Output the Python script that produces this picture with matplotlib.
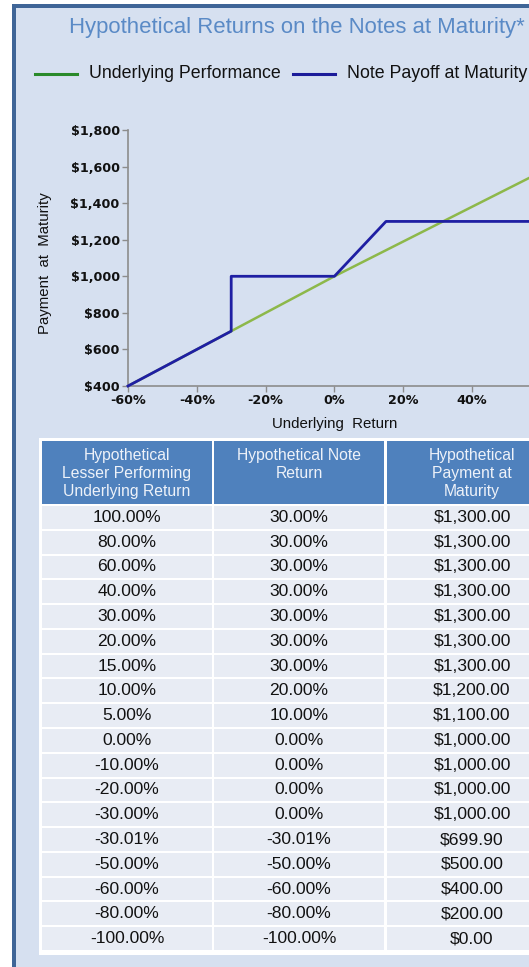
import matplotlib.pyplot as plt
import matplotlib.patches as mpatches
from matplotlib.ticker import FuncFormatter

# chart data
green_x = [-60, 0, 60]
green_y = [400, 1000, 1570]
note_x = [-60, -30, -30, 0, 15, 60]
note_y = [400, 700, 1000, 1000, 1300, 1300]
x_ticks = [-60, -40, -20, 0, 20, 40]
y_ticks = [400, 600, 800, 1000, 1200, 1400, 1600, 1800]

# table data
headers = ["Hypothetical\nLesser Performing\nUnderlying Return",
           "Hypothetical Note\nReturn",
           "Hypothetical\nPayment at\nMaturity"]
und_ret = [100, 80, 60, 40, 30, 20, 15, 10, 5, 0, -10, -20, -30, -30.01, -50, -60, -80, -100]
note_ret = [30, 30, 30, 30, 30, 30, 30, 20, 10, 0, 0, 0, 0, -30.01, -50, -60, -80, -100]
payment = [1300, 1300, 1300, 1300, 1300, 1300, 1300, 1200, 1100, 1000, 1000, 1000, 1000,
           699.90, 500, 400, 200, 0]

W, H = 529, 967
fig = plt.figure(figsize=(W / 100, H / 100), dpi=100)
fig.patch.set_facecolor("white")

bg = fig.add_axes([0, 0, 1, 1], zorder=0)
bg.set_xlim(0, W)
bg.set_ylim(H, 0)
bg.axis("off")

panel = "#D6E0F0"
border = "#3F6597"
bg.add_patch(mpatches.Rectangle((12, 4), 600, 970, facecolor=panel, edgecolor="none"))
bg.add_patch(mpatches.Rectangle((12, 4), 4, 970, facecolor=border, edgecolor="none"))
bg.add_patch(mpatches.Rectangle((12, 4), 600, 4, facecolor=border, edgecolor="none"))

sans = "Liberation Sans"
bg.text(69, 27, "Hypothetical Returns on the Notes at Maturity*", fontsize=15.9,
        color="#5A8AC6", family=sans, ha="left", va="center")

# legend
bg.plot([35, 77], [74, 74], color="#2A8A2A", lw=2.2)
bg.text(89, 74, "Underlying Performance", fontsize=12.8, family=sans, va="center", color="#111111")
bg.plot([293, 335], [74, 74], color="#1C1C9A", lw=2.2)
bg.text(347, 74, "Note Payoff at Maturity", fontsize=12.8, family=sans, va="center", color="#111111")

# chart
px20 = 68.8
left, bottom, top = 128, 386, 130
ax = fig.add_axes([left / W, 1 - bottom / H, 6 * px20 / W, (bottom - top) / H], zorder=2)
ax.set_facecolor("none")
ax.plot(green_x, green_y, color="#8DB84A", lw=1.8, zorder=2)
ax.plot(note_x, note_y, color="#1F1FA3", lw=2.0, zorder=3, clip_on=False)
ax.set_xlim(-60, 60)
ax.set_ylim(400, 1800)
ax.set_xticks(x_ticks)
ax.set_yticks(y_ticks)
ax.xaxis.set_major_formatter(FuncFormatter(lambda v, p: f"{v:.0f}%"))
ax.yaxis.set_major_formatter(FuncFormatter(lambda v, p: f"${v:,.0f}"))
for s in ["top", "right"]:
    ax.spines[s].set_visible(False)
for s in ["left", "bottom"]:
    ax.spines[s].set_color("#8C8C8C")
    ax.spines[s].set_linewidth(1.2)
ax.tick_params(colors="#8C8C8C", length=4, width=1, pad=2)
for lab in ax.get_xticklabels() + ax.get_yticklabels():
    lab.set_fontweight("bold")
    lab.set_fontsize(9.2)
    lab.set_color("#111111")
    lab.set_family("DejaVu Sans")
ax.set_xlabel("Underlying  Return", fontsize=10.8, family=sans, color="#111111", labelpad=7)
fig.text(45 / W, 1 - 263 / H, "Payment  at  Maturity", rotation=90, fontsize=10.8,
         family=sans, color="#111111", ha="center", va="center")

# table
col_x = [42, 214, 387]
col_w = 170
head_top, head_bot = 441, 504
row_top = 506
row_h = (952 - row_top) / len(und_ret)
bg.add_patch(mpatches.Rectangle((39, 438), 600, 952 - 438 + 3, facecolor="white", edgecolor="none"))
for j, hdr in enumerate(headers):
    bg.add_patch(mpatches.Rectangle((col_x[j], head_top), col_w, head_bot - head_top,
                                    facecolor="#4F81BD", edgecolor="none"))
    bg.text(col_x[j] + col_w / 2, 448, hdr, ha="center", va="top", fontsize=11.3,
            family=sans, color="#EEF2F9", linespacing=1.25)

for i in range(len(und_ret)):
    y0 = row_top + i * row_h
    vals = [f"{und_ret[i]:.2f}%", f"{note_ret[i]:.2f}%", f"${payment[i]:,.2f}"]
    for j in range(3):
        bg.add_patch(mpatches.Rectangle((col_x[j], y0), col_w, row_h - 2,
                                        facecolor="#E8ECF4", edgecolor="none"))
        bg.text(col_x[j] + col_w / 2, y0 + (row_h - 2) / 2, vals[j], ha="center", va="center",
                fontsize=12.6, family=sans, color="#111111")

fig.savefig("out.png", dpi=100)
